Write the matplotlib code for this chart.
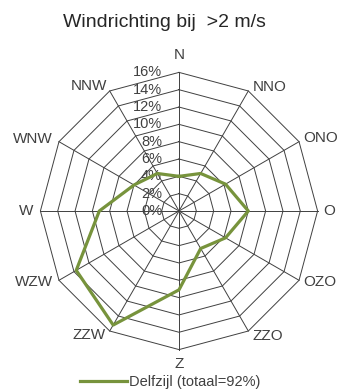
import numpy as np
import matplotlib
matplotlib.use('Agg')
import matplotlib.pyplot as plt

plt.rcParams['font.family'] = ['Liberation Sans', 'DejaVu Sans']

# wind direction shares (%) for wind speed above 2 m/s
richtingen = ['N', 'NNO', 'ONO', 'O', 'OZO', 'ZZO', 'Z', 'ZZW', 'WZW', 'W', 'WNW', 'NNW']
delfzijl = [4.0, 5.0, 6.2, 8.0, 6.2, 5.0, 9.1, 15.2, 13.7, 9.2, 6.0, 5.0]
ringen = [2, 4, 6, 8, 10, 12, 14, 16]
tick_labels = ['0%', '2%', '4%', '6%', '8%', '10%', '12%', '14%', '16%']

# pixel offsets of the direction labels from the outer vertex
label_pos = {
    'N': (0, 17, 'center'), 'NNO': (4, 4, 'left'), 'ONO': (4, 4, 'left'),
    'O': (6, 0, 'left'), 'OZO': (4, -2, 'left'), 'ZZO': (4, -5, 'left'),
    'Z': (0, -14, 'center'), 'ZZW': (-4, -4, 'right'), 'WZW': (-6, -2, 'right'),
    'W': (-7, 0, 'right'), 'WNW': (-6, 3, 'right'), 'NNW': (-3, 5, 'right'),
}

grid_kw = dict(color='#404040', lw=0.7, clip_on=False, zorder=1)
txt_col = '#404040'

fig = plt.figure(figsize=(3.39, 3.90), dpi=100)
ax = fig.add_axes([0.1192, 0.1036, 0.8177, 0.7108], projection='polar')
ax.set_theta_zero_location('N')
ax.set_theta_direction(-1)
ax.set_ylim(0, 16)
ax.axis('off')

theta = np.deg2rad(np.arange(len(richtingen)) * 30)
theta_c = np.append(theta, theta[0])

# polygon rings and spokes
for r in ringen:
    ax.plot(theta_c, [r] * len(theta_c), **grid_kw)
for t in theta:
    ax.plot([t, t], [0, ringen[-1]], **grid_kw)

vals = np.append(delfzijl, delfzijl[0])
ax.plot(theta_c, vals, color='#77933C', lw=2.3, zorder=3, clip_on=False,
        label='Delfzijl (totaal=92%)')

for i, lab in enumerate(tick_labels):
    ax.annotate(lab, xy=(0, i * 2), xytext=(-17, 0), textcoords='offset pixels',
                ha='right', va='center', fontsize=10.5, color=txt_col, zorder=2)

for t, d in zip(theta, richtingen):
    dx, dy, ha = label_pos[d]
    ax.annotate(d, xy=(t, ringen[-1]), xytext=(dx, dy), textcoords='offset pixels',
                ha=ha, va='center', fontsize=11, color=txt_col)

fig.text(164 / 339, 1 - 26.7 / 390, 'Windrichting bij  >2 m/s', ha='center',
         va='baseline', fontsize=14, color='#262626')

fig.legend(loc='center', bbox_to_anchor=(170 / 339, 1 - 382 / 390), frameon=False,
           fontsize=10.5, handlelength=3.2, handletextpad=0.15, labelcolor=txt_col)

fig.savefig('out.png', dpi=100)
